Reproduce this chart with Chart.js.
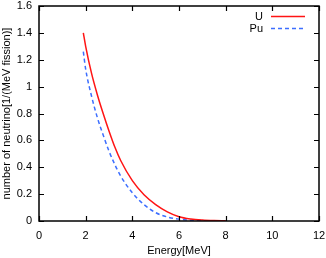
<!DOCTYPE html>
<html>
<head>
<meta charset="utf-8">
<script src="https://cdn.jsdelivr.net/npm/chart.js@4"></script>
<style>
  html, body { margin: 0; padding: 0; background: #fff; }
  #wrap { width: 326px; height: 258px; }
</style>
</head>
<body>
<div id="wrap"><canvas id="myChart" width="326" height="258"></canvas></div>
<script>
// energy grid [MeV] and spectra
var energies = [1.9, 2.0, 2.25, 2.5, 2.75, 3.0, 3.25, 3.5, 4.0, 4.5, 5.0, 5.5, 6.0, 6.5, 7.0, 7.5, 8.0];
var uValues  = [1.40, 1.30, 1.10, 0.94, 0.80, 0.67, 0.55, 0.45, 0.30, 0.195, 0.122, 0.068, 0.032, 0.015, 0.007, 0.003, 0.001];
var puValues = [1.26, 1.13, 0.93, 0.77, 0.64, 0.52, 0.42, 0.335, 0.21, 0.122, 0.062, 0.03, 0.014, 0.006, 0.003, 0.001, 0.0];
var seriesNames = ["U", "Pu"];
var xTickLabels = ["0", "2", "4", "6", "8", "10", "12"];
var yTickLabels = ["0", "0.2", "0.4", "0.6", "0.8", "1", "1.2", "1.4", "1.6"];

var FONT = "'Liberation Sans', Arial, sans-serif";

function points(vals) {
  return energies.map(function (e, i) { return { x: e, y: vals[i] }; });
}

// gnuplot style frame, inward ticks on all four sides, legend top right
var framePlugin = {
  id: "frame",
  afterDraw: function (chart) {
    var c = chart.ctx, a = chart.chartArea;
    var xs = chart.scales.x, ys = chart.scales.y;
    var len = 5;
    c.save();
    c.strokeStyle = "#000";
    c.lineWidth = 1.2;
    c.beginPath();
    xs.ticks.forEach(function (t) {
      var px = Math.round(xs.getPixelForValue(t.value)) + 0.5;
      c.moveTo(px, a.bottom); c.lineTo(px, a.bottom - len);
      c.moveTo(px, a.top); c.lineTo(px, a.top + len);
    });
    ys.ticks.forEach(function (t) {
      var py = Math.round(ys.getPixelForValue(t.value)) + 0.5;
      c.moveTo(a.left, py); c.lineTo(a.left + len, py);
      c.moveTo(a.right, py); c.lineTo(a.right - len, py);
    });
    c.stroke();
    c.lineWidth = 1.5;
    c.strokeRect(a.left, a.top, a.right - a.left, a.bottom - a.top);

    // legend
    c.font = "11px " + FONT;
    c.textAlign = "right";
    c.textBaseline = "middle";
    chart.data.datasets.forEach(function (ds, i) {
      var y = a.top + 10 + i * 12;
      c.fillStyle = "#000";
      c.fillText(ds.label, a.right - 56, y + 0.5);
      c.strokeStyle = ds.borderColor;
      c.lineWidth = 1.5;
      c.setLineDash(ds.borderDash || []);
      c.beginPath();
      c.moveTo(a.right - 48, y + 0.5);
      c.lineTo(a.right - 14, y + 0.5);
      c.stroke();
      c.setLineDash([]);
    });
    c.restore();
  }
};

var ctx = document.getElementById("myChart");
var myChart = new Chart(ctx, {
  type: "line",
  data: {
    datasets: [
      {
        label: seriesNames[0],
        data: points(uValues),
        borderColor: "rgb(255, 20, 20)",
        borderWidth: 1.5,
        pointRadius: 0,
        fill: false,
        cubicInterpolationMode: "monotone",
      },
      {
        label: seriesNames[1],
        data: points(puValues),
        borderColor: "rgb(60, 110, 255)",
        borderWidth: 1.5,
        borderDash: [4, 3],
        pointRadius: 0,
        fill: false,
        cubicInterpolationMode: "monotone",
      },
    ],
  },
  options: {
    responsive: false,
    animation: false,
    devicePixelRatio: 1,
    layout: { padding: { left: 0, right: 0, top: 6, bottom: 0 } },
    plugins: {
      legend: { display: false },
      tooltip: { enabled: false },
    },
    scales: {
      x: {
        type: "linear",
        min: 0,
        max: 12,
        ticks: {
          stepSize: 2,
          padding: 8,
          color: "#000",
          font: { family: FONT, size: 11 },
          maxRotation: 0,
          callback: function (v, i) { return xTickLabels[i]; },
        },
        grid: { display: false, drawTicks: false },
        border: { display: false },
        title: {
          display: true,
          text: "Energy[MeV]",
          color: "#000",
          font: { family: FONT, size: 11 },
          padding: { top: 0, bottom: 0 },
        },
        afterFit: function (s) {
          s.height = 37;
          s.paddingLeft = 0;
          s.paddingRight = 7;
        },
      },
      y: {
        min: 0,
        max: 1.6,
        ticks: {
          stepSize: 0.2,
          padding: 7,
          color: "#000",
          font: { family: FONT, size: 11 },
          callback: function (v, i) { return yTickLabels[i]; },
        },
        grid: { display: false, drawTicks: false },
        border: { display: false },
        title: {
          display: true,
          text: "number of neutrino[1/(MeV fission)]",
          color: "#000",
          font: { family: FONT, size: 11 },
          padding: { top: 0.5, bottom: 0 },
        },
        afterFit: function (s) {
          s.width = 39;
          s.paddingTop = 0;
          s.paddingBottom = 0;
        },
      },
    },
  },
  plugins: [framePlugin],
});
</script>
</body>
</html>
